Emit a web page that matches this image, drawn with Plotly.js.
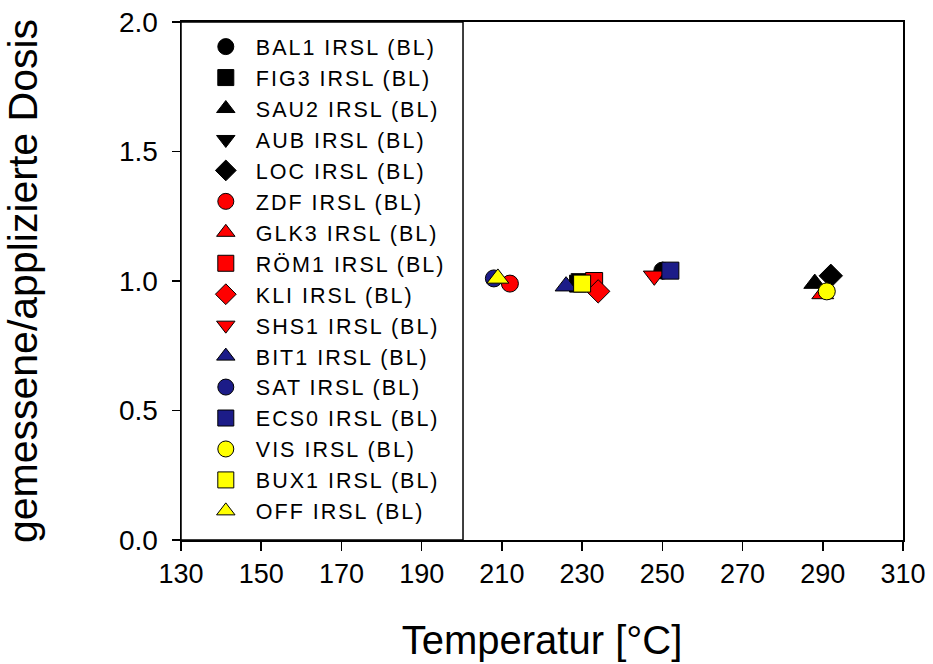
<!DOCTYPE html>
<html>
<head>
<meta charset="utf-8">
<script src="https://cdn.plot.ly/plotly-3.0.1.min.js"></script>
<style>html,body{margin:0;padding:0;background:#fff;}#chart{width:933px;height:664px;}
#chart .legendtext{letter-spacing:2px;}
#chart g.legend, #chart g.legend g.scrollbox, #chart g.legend g{clip-path:none !important;}</style>
</head>
<body>
<div id="chart"></div>
<script>
// Series names (legend order)
const seriesNames = ["BAL1 IRSL (BL)", "FIG3 IRSL (BL)", "SAU2 IRSL (BL)", "AUB IRSL (BL)", "LOC IRSL (BL)",
  "ZDF IRSL (BL)", "GLK3 IRSL (BL)", "RÖM1 IRSL (BL)", "KLI IRSL (BL)", "SHS1 IRSL (BL)",
  "BIT1 IRSL (BL)", "SAT IRSL (BL)", "ECS0 IRSL (BL)", "VIS IRSL (BL)", "BUX1 IRSL (BL)", "OFF IRSL (BL)"];
// Temperature [°C] per series
const temperatures = [250, 229, 288, 230, 292, 212, 290, 233, 234, 248, 226, 208, 252, 291, 230, 209];
// measured / applied dose per series
const doseRatios = [1.04, 0.99, 0.99, 1.01, 1.02, 0.99, 0.95, 1.00, 0.96, 1.02, 0.98, 1.01, 1.04, 0.96, 0.99, 1.01];
// Axis ticks
const xTicks = [130, 150, 170, 190, 210, 230, 250, 270, 290, 310];
const yTicks = [0.0, 0.5, 1.0, 1.5, 2.0];

// styles
const symbols = ["circle", "square", "triangle-up", "triangle-down", "diamond",
  "circle", "triangle-up", "square", "diamond", "triangle-down",
  "triangle-up", "circle", "square", "circle", "square", "triangle-up"];
const colors = ["#000000", "#000000", "#000000", "#000000", "#000000",
  "#FF0000", "#FF0000", "#FF0000", "#FF0000", "#FF0000",
  "#1C1C88", "#1C1C88", "#1C1C88", "#FFFF00", "#FFFF00", "#FFFF00"];

const traces = seriesNames.map((n, i) => ({
  type: "scatter",
  mode: "markers",
  name: n,
  x: [temperatures[i]],
  y: [doseRatios[i]],
  marker: {
    symbol: symbols[i],
    color: colors[i],
    size: symbols[i] === "diamond" ? 18 : (symbols[i].startsWith("triangle") ? 19 : 17),
    line: {color: "#000000", width: 1}
  }
}));

const layout = {
  width: 933,
  height: 664,
  margin: {l: 181, r: 30, t: 22, b: 124},
  paper_bgcolor: "#ffffff",
  plot_bgcolor: "#ffffff",
  font: {family: "Liberation Sans, Arial, sans-serif", color: "#000000"},
  showlegend: true,
  legend: {
    x: 0.0205, y: 0.992, xanchor: "left", yanchor: "top",
    bgcolor: "rgba(0,0,0,0)",
    borderwidth: 0,
    font: {size: 21.5, family: "Liberation Sans, Arial, sans-serif"},
    itemsizing: "trace",
    itemwidth: 50
  },
  xaxis: {
    range: [130, 310],
    tickvals: xTicks,
    ticktext: xTicks.map(String),
    ticks: "outside", ticklen: 9, tickwidth: 1.5, tickcolor: "#000",
    showgrid: false, zeroline: false,
    showline: true, linecolor: "#000", linewidth: 2, mirror: true,
    tickfont: {size: 27},
    title: {text: "Temperatur [°C]", font: {size: 40}, standoff: 38}
  },
  yaxis: {
    range: [0, 2],
    tickvals: yTicks,
    ticktext: yTicks.map(v => v.toFixed(1)),
    ticks: "outside", ticklen: 8, tickwidth: 1.5, tickcolor: "#000",
    showgrid: false, zeroline: false,
    showline: true, linecolor: "#000", linewidth: 1.5, mirror: true,
    tickfont: {size: 28},
    ticklabelstandoff: 8,
    title: {text: "gemessene/applizierte Dosis", font: {size: 41}, standoff: 68}
  },
  shapes: [{
    type: "rect", xref: "paper", yref: "paper",
    x0: 0, x1: 0.3906, y0: 0, y1: 1,
    line: {color: "#000", width: 1.5},
    fillcolor: "rgba(0,0,0,0)", layer: "above"
  }]
};

Plotly.newPlot("chart", traces, layout, {displayModeBar: false, staticPlot: true});
</script>
</body>
</html>
